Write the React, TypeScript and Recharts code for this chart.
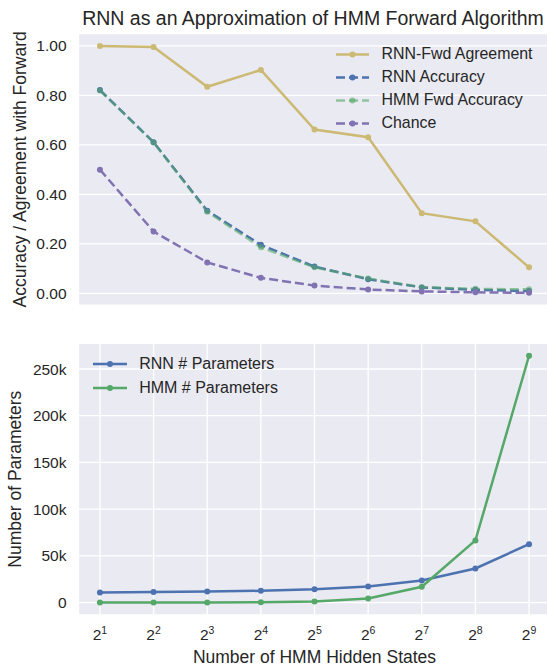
import React from 'react';
import { LineChart, Line, XAxis, YAxis, CartesianGrid, Legend, Label } from 'recharts';

// ---- data ----
const exponents = [1, 2, 3, 4, 5, 6, 7, 8, 9];
const agreement = [1.0, 0.996, 0.835, 0.903, 0.662, 0.631, 0.324, 0.291, 0.105];
const rnnAccuracy = [0.822, 0.611, 0.334, 0.196, 0.108, 0.057, 0.024, 0.014, 0.009];
const hmmFwdAccuracy = [0.82, 0.61, 0.33, 0.186, 0.105, 0.06, 0.025, 0.018, 0.016];
const chance = [0.5, 0.25, 0.125, 0.0625, 0.0313, 0.0156, 0.0078, 0.0039, 0.002];
const rnnParams = [10800, 11200, 11800, 12600, 14200, 17200, 23600, 36500, 62500];
const hmmParams = [12, 32, 96, 320, 1152, 4352, 16896, 66560, 264192];
const topTicks = [0, 0.2, 0.4, 0.6, 0.8, 1.0];
const bottomTicks = [0, 50000, 100000, 150000, 200000, 250000];

const topData = exponents.map((e, i) => ({
  e,
  agreement: agreement[i],
  rnnAcc: rnnAccuracy[i],
  hmmAcc: hmmFwdAccuracy[i],
  chance: chance[i],
}));
const bottomData = exponents.map((e, i) => ({ e, rnnP: rnnParams[i], hmmP: hmmParams[i] }));

const C = {
  yellow: '#CCB974',
  blue: '#4C72B0',
  green: '#55A868',
  purple: '#8172B2',
  bg: '#EAEAF2',
  text: '#262626',
};
const FONT = '"Liberation Sans", Arial, Helvetica, sans-serif';
const DASH = '9 4';

type LegendItem = { label: string; color: string; dashed: boolean; opacity?: number };

const makeLegend = (items: LegendItem[], sampleW: number, rowH: number, gap: number, fontSize: number, lw: number) => () => (
  <div style={{ fontFamily: FONT, fontSize, color: C.text }}>
    {items.map((it) => (
      <div key={it.label} style={{ display: 'flex', alignItems: 'center', height: rowH, whiteSpace: 'nowrap' }}>
        <svg width={sampleW} height={rowH} style={{ display: 'block' }}>
          <line
            x1={0}
            x2={sampleW}
            y1={rowH / 2}
            y2={rowH / 2}
            stroke={it.color}
            strokeOpacity={it.opacity ?? 1}
            strokeWidth={lw}
            strokeDasharray={it.dashed ? '9 4' : undefined}
          />
          <circle cx={sampleW / 2} cy={rowH / 2} r={3} fill={it.color} fillOpacity={it.opacity ?? 1} />
        </svg>
        <span style={{ marginLeft: gap }}>{it.label}</span>
      </div>
    ))}
  </div>
);

const topLegend = makeLegend(
  [
    { label: 'RNN-Fwd Agreement', color: C.yellow, dashed: false },
    { label: 'RNN Accuracy', color: C.blue, dashed: true },
    { label: 'HMM Fwd Accuracy', color: C.green, dashed: true, opacity: 0.6 },
    { label: 'Chance', color: C.purple, dashed: true },
  ],
  33,
  23,
  12.5,
  15.9,
  2.5
);

const bottomLegend = makeLegend(
  [
    { label: 'RNN # Parameters', color: C.blue, dashed: false },
    { label: 'HMM # Parameters', color: C.green, dashed: false },
  ],
  34,
  24,
  12.5,
  16,
  2.5
);

const PowTick = (props: any) => {
  const { x, y, payload } = props;
  return (
    <text x={x} y={y + 25} textAnchor="middle" fill={C.text} fontFamily={FONT} fontSize={15.5}>
      <tspan>2</tspan>
      <tspan dy={-6} fontSize={10.5}>
        {payload.value}
      </tspan>
    </text>
  );
};

const tickStyle = { fill: C.text, fontSize: 15.5, fontFamily: FONT };

export default function App() {
  return (
    <div
      style={{
        position: 'absolute',
        left: 0,
        top: 0,
        width: 547,
        height: 666,
        overflow: 'hidden',
        background: '#fff',
        fontFamily: FONT,
      }}
    >
      <div
        style={{
          position: 'absolute',
          left: 63,
          width: 500,
          top: 0,
          height: 36,
          lineHeight: '36px',
          textAlign: 'center',
          fontSize: 19.5,
          color: C.text,
          whiteSpace: 'nowrap',
        }}
      >
        RNN as an Approximation of HMM Forward Algorithm
      </div>

      <div style={{ position: 'absolute', left: 0, top: 0 }}>
        <LineChart width={560} height={320} data={topData} margin={{ top: 33.6, right: 9.5, left: 0, bottom: 0 }}>
          <CartesianGrid fill={C.bg} stroke="#ffffff" strokeWidth={1.3} />
          <XAxis
            dataKey="e"
            type="number"
            domain={[0.6, 9.4]}
            ticks={exponents}
            allowDataOverflow
            tick={false}
            axisLine={false}
            tickLine={false}
            height={14.8}
          />
          <YAxis
            type="number"
            domain={[-0.048, 1.05]}
            ticks={topTicks}
            allowDataOverflow
            width={78.5}
            axisLine={false}
            tickLine={false}
            tickSize={0}
            tickMargin={12}
            tick={tickStyle}
            tickFormatter={(v: number) => v.toFixed(2)}
          >
            <Label
              value="Accuracy / Agreement with Forward"
              angle={-90}
              position="insideLeft"
              offset={20}
              style={{ textAnchor: 'middle', fill: C.text, fontSize: 17.5, fontFamily: FONT }}
            />
          </YAxis>
          <Legend
            layout="vertical"
            align="center"
            verticalAlign="middle"
            content={topLegend}
            wrapperStyle={{ left: 336, top: 42.5, width: 'auto', height: 'auto' }}
          />
          <Line
            dataKey="agreement"
            stroke={C.yellow}
            strokeWidth={2.5}
            dot={{ r: 3, fill: C.yellow, stroke: 'none' }}
            isAnimationActive={false}
          />
          <Line
            dataKey="rnnAcc"
            stroke={C.blue}
            strokeWidth={2.5}
            strokeDasharray={DASH}
            dot={{ r: 3, fill: C.blue, stroke: 'none' }}
            isAnimationActive={false}
          />
          <Line
            dataKey="hmmAcc"
            stroke={C.green}
            strokeOpacity={0.6}
            strokeWidth={2.5}
            strokeDasharray={DASH}
            dot={{ r: 3, fill: C.green, fillOpacity: 0.6, stroke: 'none' }}
            isAnimationActive={false}
          />
          <Line
            dataKey="chance"
            stroke={C.purple}
            strokeWidth={2.5}
            strokeDasharray={DASH}
            dot={{ r: 3, fill: C.purple, stroke: 'none' }}
            isAnimationActive={false}
          />
        </LineChart>
      </div>

      <div style={{ position: 'absolute', left: 0, top: 320 }}>
        <LineChart width={560} height={346} data={bottomData} margin={{ top: 23.4, right: 9.5, left: 0, bottom: 0 }}>
          <CartesianGrid fill={C.bg} stroke="#ffffff" strokeWidth={1.3} />
          <XAxis
            dataKey="e"
            type="number"
            domain={[0.6, 9.4]}
            ticks={exponents}
            allowDataOverflow
            axisLine={false}
            tickLine={false}
            tickSize={0}
            tickMargin={0}
            tick={<PowTick />}
            height={51.1}
          >
            <Label
              value="Number of HMM Hidden States"
              position="insideBottom"
              offset={3}
              style={{ fill: C.text, fontSize: 17.5, fontFamily: FONT }}
            />
          </XAxis>
          <YAxis
            type="number"
            domain={[-13200, 277400]}
            ticks={bottomTicks}
            allowDataOverflow
            width={78.5}
            axisLine={false}
            tickLine={false}
            tickSize={0}
            tickMargin={12}
            tick={tickStyle}
            tickFormatter={(v: number) => (v === 0 ? '0' : `${Math.round(v / 1000)}k`)}
          >
            <Label
              value="Number of Parameters"
              angle={-90}
              position="insideLeft"
              offset={15}
              style={{ textAnchor: 'middle', fill: C.text, fontSize: 17.5, fontFamily: FONT }}
            />
          </YAxis>
          <Legend
            layout="vertical"
            align="center"
            verticalAlign="middle"
            content={bottomLegend}
            wrapperStyle={{ left: 92.7, top: 32, width: 'auto', height: 'auto' }}
          />
          <Line
            dataKey="rnnP"
            stroke={C.blue}
            strokeWidth={2.5}
            dot={{ r: 3, fill: C.blue, stroke: 'none' }}
            isAnimationActive={false}
          />
          <Line
            dataKey="hmmP"
            stroke={C.green}
            strokeWidth={2.5}
            dot={{ r: 3, fill: C.green, stroke: 'none' }}
            isAnimationActive={false}
          />
        </LineChart>
      </div>
    </div>
  );
}
